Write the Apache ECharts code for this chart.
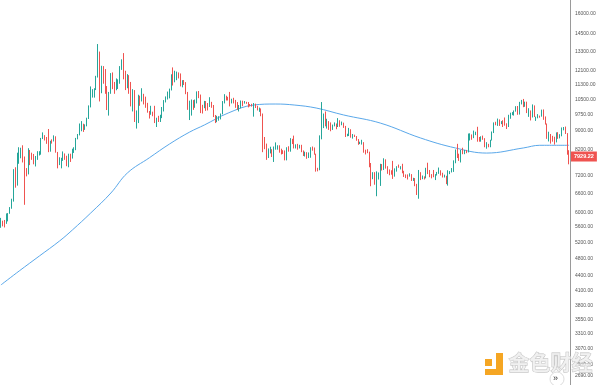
<!DOCTYPE html>
<html><head><meta charset="utf-8">
<script src="https://cdn.jsdelivr.net/npm/echarts@6/dist/echarts.min.js"></script>
<style>html,body{margin:0;padding:0;background:#fff}#c{width:600px;height:385px}</style>
</head><body><div id="c"></div>
<script>
// Daily candles [open, high, low, close]
const may2019 = [
[5750,5860,5580,5760],[5760,5780,5620,5700],[5700,5800,5590,5690],[5690,5990,5690,5830],[5830,6000,5760,5990],
[5990,6180,5980,6170],[6170,6440,6130,6350],[6350,7450,6350,7220],[7220,7520,6800,6970],[6970,8080,6870,7800],
[7800,8300,7650,7990],[7990,8280,7860,8200],[8200,8380,7700,7880],[7880,7930,6250,7350],[7350,7490,7190,7260],
[7260,8260,7260,8190],[8190,8190,7600,7990],[7990,8080,7800,7950],[7950,8030,7630,7650],[7650,7950,7550,7880],
[7880,8140,7800,7990],[7990,8140,7970,8070],[8070,8690,8000,8670],[8670,8930,8640,8800],[8800,8810,8580,8720],
[8720,8730,8440,8660],[8660,9080,8100,8280],[8280,8570,8120,8560]];
const jun2019 = [
[8560,8630,8450,8550],[8550,8800,8540,8740],[8740,8760,8080,8100],[8100,8110,7480,7670],[7670,7900,7600,7790],
[7790,7880,7480,7810],[7810,8130,7760,8000],[8000,8050,7800,7930],[7930,7960,7560,7630],[7630,8040,7520,8010],
[8010,8040,7720,7920],[7920,8240,7850,8160],[8160,8300,8070,8230],[8230,8690,8180,8690],[8690,8860,8630,8840],
[8840,9330,8800,8980],[8980,9440,8980,9320],[9320,9320,8950,9080],[9080,9290,9040,9270],[9270,9600,9200,9540],
[9540,10200,9540,10200],[10200,11200,10100,10680],[10680,11050,10600,10850],[10850,11100,10600,11010],[11010,11800,11000,11780],
[11780,13800,11700,13020],[13020,13300,10400,11160],[11160,12400,10830,12360],[12360,12380,11350,11880],[11880,12200,10800,10820]];
const jul2019 = [
[10820,11220,9970,10580],[10580,10900,9700,10800],[10800,11960,10800,11960],[11960,12000,11050,11150],[11150,11450,10800,10990],
[10990,11650,10990,11250],[11250,11600,11060,11480],[11480,12380,11350,12300],[12300,12800,12150,12570],[12570,13200,11600,12100],
[12100,12100,11000,11350],[11350,11900,11100,11800],[11800,11840,10800,11380],[11380,11450,10150,10200],[10200,11050,9900,10850],
[10850,11000,9400,9450],[9450,9950,9100,9690],[9690,10750,9350,10640],[10640,10700,10180,10530],[10530,11100,10400,10750],
[10750,10800,10250,10590],[10590,10650,10080,10330],[10330,10330,9840,9880],[9880,9920,9560,9780],[9780,10180,9740,9880],
[9880,9890,9670,9850],[9850,10180,9350,9480],[9480,9600,9170,9530],[9530,9690,9400,9510],[9510,9740,9400,9600],
[9600,10120,9580,10090]];
const aug2019 = [
[10090,10470,9900,10410],[10410,10660,10350,10520],[10520,10920,10500,10820],[10820,11080,10560,10980],[10980,11890,10980,11800],
[11800,12300,11250,11470],[11470,12100,11430,11970],[11970,12050,11550,11980],[11980,12000,11650,11860],[11860,11940,11200,11290],
[11290,11550,11150,11550],[11550,11560,11280,11380],[11380,11440,10780,10860],[10860,10900,9980,10040],[10040,10440,9490,10300],
[10300,10500,9700,10360],[10360,10470,9980,10220],[10220,10500,10080,10330],[10330,10930,10300,10900],[10900,10950,10570,10760],
[10760,10760,9820,10130],[10130,10230,9800,10110],[10110,10430,10060,10400],[10400,10420,9930,10140],[10140,10320,9950,10130],
[10130,10620,10120,10360],[10360,10380,10080,10170],[10170,10220,9630,9720],[9720,9730,9350,9490],[9490,9690,9390,9590],
[9590,9670,9460,9620]];
const sep2019 = [
[9620,9800,9520,9760],[9760,10420,9760,10380],[10380,10780,10300,10620],[10620,10700,10450,10590],[10590,10640,10450,10580],
[10580,10900,10150,10320],[10320,10540,10300,10480],[10480,10590,10300,10390],[10390,10480,10080,10300],[10300,10370,9980,10100],
[10100,10220,9900,10160],[10160,10450,10050,10410],[10410,10440,10160,10360],[10360,10420,10290,10360],[10360,10380,10280,10310],
[10310,10370,10100,10260],[10260,10270,10150,10190],[10190,10280,10140,10160],[10160,10320,9650,10270],[10270,10290,10070,10170],
[10170,10180,9950,9980],[9980,10090,9880,10030],[10030,10050,9670,9700],[9700,9800,8100,8530],[8530,8730,8220,8430],
[8430,8450,7800,8060],[8060,8250,7870,8190],[8190,8320,8050,8210],[8210,8220,7910,8040],[8040,8330,7720,8300]];
const oct2019 = [
[8300,8500,8200,8330],[8330,8380,8200,8370],[8370,8380,8080,8230],[8230,8240,8010,8150],[8150,8180,8030,8130],
[8130,8170,7780,7860],[7860,8300,7780,8220],[8220,8340,8120,8200],[8200,8680,8120,8600],[8600,8650,8430,8590],
[8590,8790,8250,8260],[8260,8420,8250,8300],[8300,8440,8200,8290],[8290,8400,8250,8360],[8360,8400,8100,8160],
[8160,8170,7950,8000],[8000,8120,7930,8080],[8080,8100,7840,7960],[7960,8090,7870,7960],[7960,8300,7880,8230],
[8230,8330,8160,8210],[8210,8290,8000,8030],[8030,8040,7360,7470],[7470,7500,7370,7430],[7430,8800,7410,8670],
[8670,10370,8630,9260],[9260,9800,9120,9550],[9550,9900,9200,9220],[9220,9550,9100,9430],[9430,9440,9040,9170],
[9170,9380,8980,9150]];
const nov2019 = [
[9150,9280,9040,9240],[9240,9380,9200,9300],[9300,9330,9070,9200],[9200,9580,9170,9410],[9410,9480,9180,9310],
[9310,9420,9250,9340],[9340,9370,9130,9200],[9200,9220,8730,8770],[8770,8870,8760,8810],[8810,9130,8770,9040],
[9040,9070,8700,8720],[8720,8860,8660,8800],[8800,8830,8730,8760],[8760,8770,8570,8630],[8630,8640,8400,8460],
[8460,8530,8430,8490],[8490,8610,8410,8500],[8500,8510,8080,8180],[8180,8200,8010,8120],[8120,8220,8060,8080],
[8080,8120,7520,7620],[7620,7680,6850,7270],[7270,7340,7090,7310],[7310,7340,6900,6930],[6930,7370,6520,7130],
[7130,7330,7080,7160],[7160,7650,6860,7530],[7530,7640,7400,7440],[7440,7860,7420,7760],[7760,7820,7470,7560]];
const dec2019 = [
[7560,7560,7280,7420],[7420,7440,7230,7310],[7310,7410,7250,7300],[7300,7760,7100,7200],[7200,7480,7180,7400],
[7400,7560,7360,7540],[7540,7620,7500,7510],[7510,7560,7440,7520],[7520,7650,7300,7340],[7340,7390,7170,7220],
[7220,7260,7130,7200],[7200,7260,7080,7190],[7190,7300,7180,7250],[7250,7270,7030,7060],[7060,7140,7030,7110],
[7110,7130,6850,6880],[6880,6930,6560,6610],[6610,7420,6440,7280],[7280,7340,7060,7150],[7150,7220,7090,7190],
[7190,7190,7080,7140],[7140,7500,7120,7500],[7500,7690,7270,7320],[7320,7420,7160,7250],[7250,7270,7120,7200],
[7200,7420,7160,7190],[7190,7270,7060,7240],[7240,7350,7220,7300],[7300,7510,7280,7390],[7390,7410,7220,7220],
[7220,7320,7150,7170]];
const jan2020 = [
[7170,7250,7150,7180],[7180,7210,6920,6950],[6950,7410,6870,7340],[7340,7380,7270,7350],[7350,7490,7330,7360],
[7360,7780,7350,7760],[7760,8210,7670,8160],[8160,8440,7870,8040],[8040,8040,7760,7820],[7820,8190,7700,8180],
[8180,8280,8020,8100],[8100,8190,8020,8180],[8180,8190,8060,8110],[8110,8880,8090,8810],[8810,8890,8580,8820],
[8820,8840,8610,8720],[8720,9010,8680,8900],[8900,8960,8810,8910],[8910,9180,8530,8700],[8700,8730,8530,8630],
[8630,8760,8530,8730],[8730,8790,8610,8670],[8670,8680,8300,8390],[8390,8510,8240,8440],[8440,8440,8300,8340],
[8340,8610,8300,8600],[8600,8970,8580,8910],[8910,9380,8900,9370],[9370,9410,9250,9290],[9290,9560,9220,9510],
[9510,9520,9220,9350]];
const feb2020 = [
[9350,9440,9300,9380],[9380,9480,9170,9340],[9340,9610,9230,9290],[9290,9340,9080,9180],[9180,9740,9170,9620],
[9620,9840,9550,9760],[9760,9870,9720,9810],[9810,9950,9700,9900],[9900,10160,9890,10160],[10160,10170,9740,9850],
[9850,10380,9750,10270],[10270,10480,10250,10360],[10360,10530,10110,10240],[10240,10390,10130,10370],[10370,10390,9820,9900],
[9900,10060,9640,9930],[9930,9950,9470,9700],[9700,10250,9610,10180],[10180,10200,9630,9600],[9600,9650,9450,9610],
[9610,9770,9570,9690],[9690,9700,9600,9670],[9670,9990,9650,9970],[9970,10000,9500,9650],[9650,9660,9280,9310],
[9310,9330,8650,8790],[8790,8960,8540,8810],[8810,8860,8450,8700],[8700,8780,8530,8540]];
const mar2020 = [
[8540,8740,8410,8530],[8530,8930,8500,8920],[8920,8940,8650,8760],[8760,8850,8670,8760],[8760,9150,8760,9070],
[9070,9170,9020,9150],[9150,9190,8860,8890],[8890,8900,8000,8030],[8030,8180,7630,7929.22]];

// Moving average: [candle index, value]
const maPoints = [[0,4211],[10,4512],[21,4857],[32,5230],[39,5521],[49,6003],[60,6624],[69,7311],[81,7880],
[92,8434],[103,8946],[111,9261],[124,9824],[138,10220],[150,10270],[160,10220],[172,10070],[187,9730],
[207,9350],[229,8686],[248,8270],[265,8065],[285,8270],[294,8380],[310,8380]];

const yTicks = [16000,14500,13300,12100,11300,10500,9750,9000,8200,7200,6600,6000,5600,5200,4800,4400,4100,3800,3550,3310,3070,2850,2690];
const lastPrice = 7929.22;

const months = [['2019-05',4,may2019],['2019-06',1,jun2019],['2019-07',1,jul2019],['2019-08',1,aug2019],
['2019-09',1,sep2019],['2019-10',1,oct2019],['2019-11',1,nov2019],['2019-12',1,dec2019],
['2020-01',1,jan2020],['2020-02',1,feb2020],['2020-03',1,mar2020]];
const categories = [], candles = [];
months.forEach(([m, start, rows]) => rows.forEach((r, i) => {
  categories.push(m + '-' + String(start + i).padStart(2, '0'));
  candles.push([r[0], r[3], r[2], r[1]]);
}));

const chart = echarts.init(document.getElementById('c'), null, {renderer: 'canvas'});
chart.setOption({
  animation: false,
  backgroundColor: '#ffffff',
  grid: {left: 0, right: 30, top: 0, bottom: 0},
  xAxis: {type: 'category', data: categories, show: false, boundaryGap: true},
  yAxis: {
    type: 'log', logBase: 10, position: 'right', min: 2572, max: 17146,
    axisLine: {show: true, lineStyle: {color: '#9a9a9a', width: 1}},
    axisTick: {show: false},
    splitLine: {show: false},
    axisLabel: {customValues: yTicks, formatter: v => Number(v).toFixed(2),
      fontSize: 5, color: '#555555', margin: 5, fontFamily: 'Arial'}
  },
  series: [{
    type: 'candlestick', data: candles, barWidth: '70%', z: 3,
    itemStyle: {color: '#26a69a', color0: '#ef5350', borderColor: '#26a69a', borderColor0: '#ef5350', borderWidth: 1}
  }, {
    type: 'line', data: maPoints, smooth: 0.4, showSymbol: false, silent: true, z: 2,
    lineStyle: {color: '#5aa8ea', width: 1},
    markLine: {
      symbol: 'none', silent: true, animation: false,
      lineStyle: {color: 'rgba(0,0,0,0)', width: 1, type: 'solid'},
      data: [{yAxis: lastPrice}],
      label: {show: true, position: 'end', distance: 1, formatter: () => lastPrice.toFixed(2),
        color: '#ffffff', backgroundColor: '#ef5350', fontSize: 5.5, fontWeight: 'bold',
        padding: [2, 3, 2, 3], fontFamily: 'Arial', opacity: 1}
    }
  }],
  graphic: [
    {type: 'group', left: 485, top: 353, z: 100, children: [
      {type: 'rect', shape: {x: 0, y: 6, width: 7, height: 7}, style: {fill: '#f5a623'}},
      {type: 'rect', shape: {x: 11, y: 0, width: 7, height: 22}, style: {fill: '#f5a623'}},
      {type: 'rect', shape: {x: 0, y: 16, width: 18, height: 6}, style: {fill: '#f5a623'}}
    ]},
    {type: 'text', left: 508, top: 351, z: 100, style: {text: '金色财经', fill: 'rgba(238,238,238,0.8)',
      stroke: 'rgba(180,180,180,0.85)', lineWidth: 0.8, font: 'bold 21px "Noto Sans CJK SC"'}},
    {type: 'circle', z: 101, shape: {cx: 557, cy: 379, r: 7}, style: {fill: '#fff', stroke: '#dddddd', lineWidth: 1}},
    {type: 'text', z: 102, left: 553, top: 374, style: {text: '»', fill: '#333', font: '9px Arial'}}
  ]
});
</script></body></html>
